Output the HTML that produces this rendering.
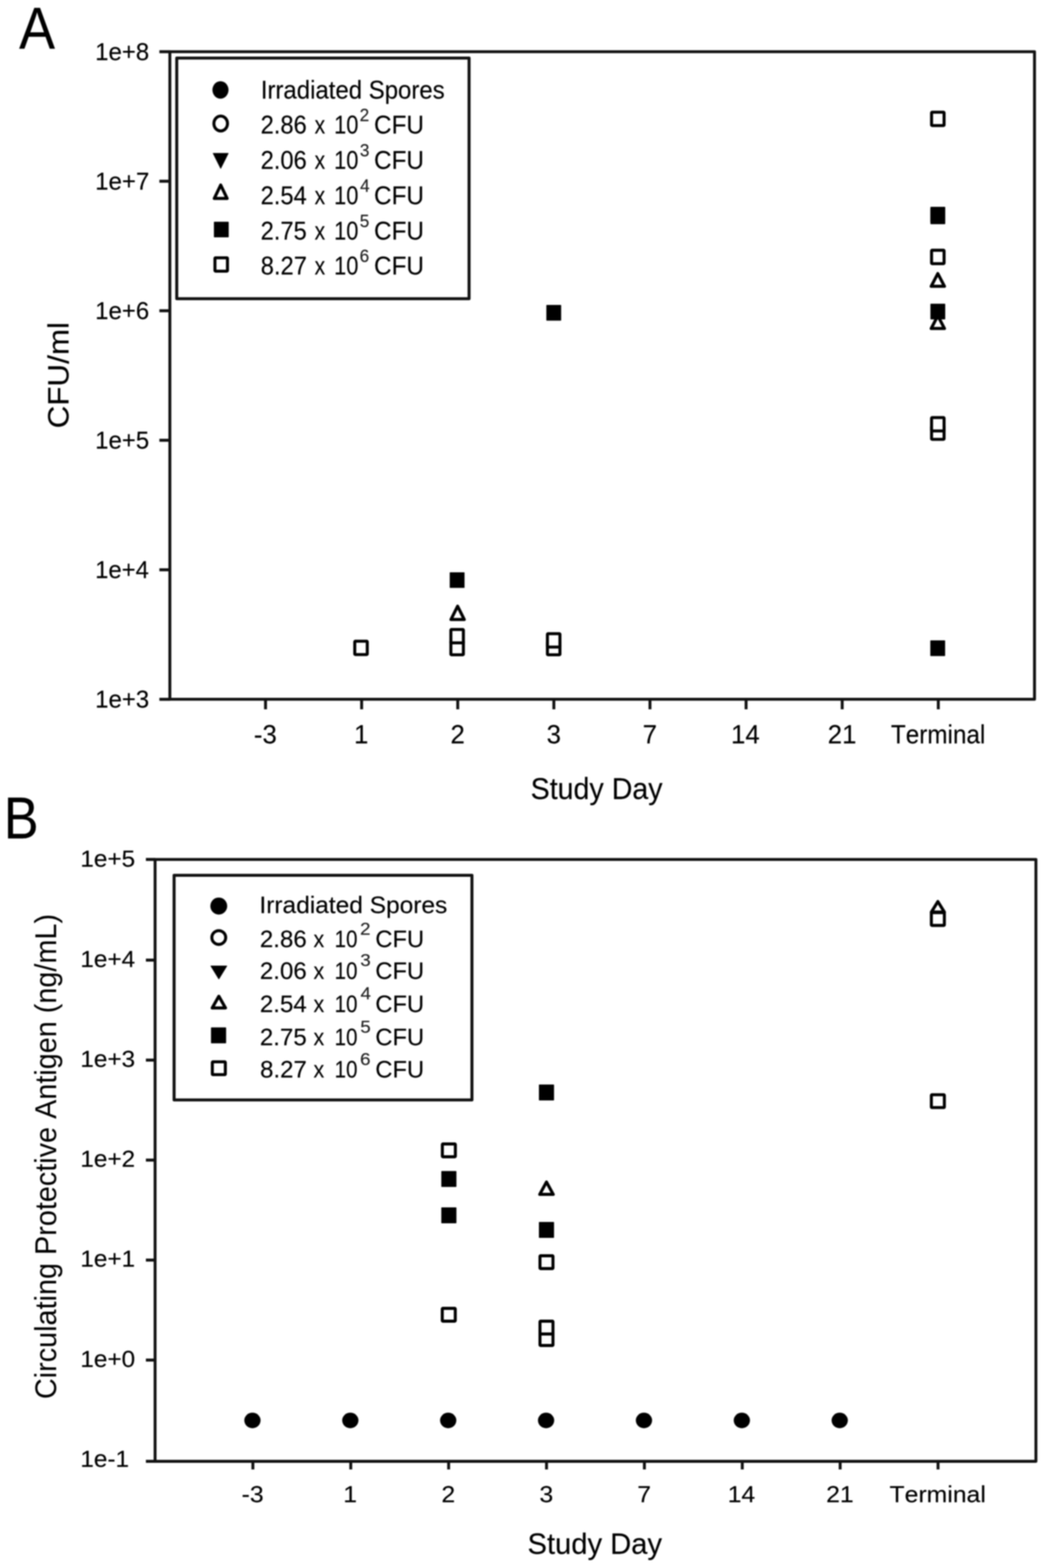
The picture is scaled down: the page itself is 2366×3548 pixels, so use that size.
<!DOCTYPE html>
<html><head><meta charset="utf-8"><title>Figure</title>
<style>
html,body{margin:0;padding:0;background:#fff;}
body{width:2366px;height:3548px;overflow:hidden;}
svg{display:block;filter:blur(1.4px);}
svg text.thin{stroke:none;}
svg text.sup{fill:#222;stroke:#222;stroke-width:0.4px;}
svg text{font-family:"Liberation Sans",Arial,sans-serif;fill:#000;stroke:#000;stroke-width:0.3px;stroke-linejoin:round;font-kerning:none;}
</style></head>
<body>
<svg xmlns="http://www.w3.org/2000/svg" width="2366" height="3548" viewBox="0 0 2366 3548">
<rect width="2366" height="3548" fill="#fff"/>
<path d="M384.2,117.0 H2340.0 V1582.3 H384.2 Z" fill="none" stroke="#111" stroke-width="6.6" stroke-linejoin="round"/>
<line x1="360.5" y1="117.00" x2="384.2" y2="117.00" stroke="#111" stroke-width="6.8"/>
<text x="215.27" y="135.60" font-size="56.3" textLength="122.19" lengthAdjust="spacingAndGlyphs">1e+8</text>
<line x1="360.5" y1="410.07" x2="384.2" y2="410.07" stroke="#111" stroke-width="6.8"/>
<text x="215.25" y="428.67" font-size="56.3" textLength="122.58" lengthAdjust="spacingAndGlyphs">1e+7</text>
<line x1="360.5" y1="703.14" x2="384.2" y2="703.14" stroke="#111" stroke-width="6.8"/>
<text x="215.27" y="721.74" font-size="56.3" textLength="122.22" lengthAdjust="spacingAndGlyphs">1e+6</text>
<line x1="360.5" y1="996.21" x2="384.2" y2="996.21" stroke="#111" stroke-width="6.8"/>
<text x="215.27" y="1014.81" font-size="56.3" textLength="122.11" lengthAdjust="spacingAndGlyphs">1e+5</text>
<line x1="360.5" y1="1289.28" x2="384.2" y2="1289.28" stroke="#111" stroke-width="6.8"/>
<text x="215.30" y="1307.88" font-size="56.3" textLength="121.38" lengthAdjust="spacingAndGlyphs">1e+4</text>
<line x1="360.5" y1="1582.35" x2="384.2" y2="1582.35" stroke="#111" stroke-width="6.8"/>
<text x="215.27" y="1600.95" font-size="56.3" textLength="122.22" lengthAdjust="spacingAndGlyphs">1e+3</text>
<line x1="600.60" y1="1582.3" x2="600.60" y2="1605.0" stroke="#111" stroke-width="6.6"/>
<line x1="818.00" y1="1582.3" x2="818.00" y2="1605.0" stroke="#111" stroke-width="6.6"/>
<line x1="1035.40" y1="1582.3" x2="1035.40" y2="1605.0" stroke="#111" stroke-width="6.6"/>
<line x1="1252.80" y1="1582.3" x2="1252.80" y2="1605.0" stroke="#111" stroke-width="6.6"/>
<line x1="1470.20" y1="1582.3" x2="1470.20" y2="1605.0" stroke="#111" stroke-width="6.6"/>
<line x1="1687.60" y1="1582.3" x2="1687.60" y2="1605.0" stroke="#111" stroke-width="6.6"/>
<line x1="1905.00" y1="1582.3" x2="1905.00" y2="1605.0" stroke="#111" stroke-width="6.6"/>
<line x1="2122.40" y1="1582.3" x2="2122.40" y2="1605.0" stroke="#111" stroke-width="6.6"/>
<text x="574.37" y="1682.20" font-size="58.3" textLength="51.84" lengthAdjust="spacingAndGlyphs">-3</text>
<text x="800.69" y="1682.20" font-size="58.3" textLength="32.42" lengthAdjust="spacingAndGlyphs">1</text>
<text x="1018.89" y="1682.20" font-size="58.3" textLength="32.42" lengthAdjust="spacingAndGlyphs">2</text>
<text x="1236.46" y="1682.20" font-size="58.3" textLength="32.42" lengthAdjust="spacingAndGlyphs">3</text>
<text x="1453.66" y="1682.20" font-size="58.3" textLength="32.42" lengthAdjust="spacingAndGlyphs">7</text>
<text x="1653.51" y="1682.20" font-size="58.3" textLength="64.85" lengthAdjust="spacingAndGlyphs">14</text>
<text x="1872.23" y="1682.20" font-size="58.3" textLength="64.85" lengthAdjust="spacingAndGlyphs">21</text>
<text x="2015.17" y="1682.20" font-size="58.3" textLength="213.61" lengthAdjust="spacingAndGlyphs">Terminal</text>
<text x="1200.26" y="1807.80" font-size="69" textLength="298.46" lengthAdjust="spacingAndGlyphs">Study Day</text>
<text transform="translate(154.60,965.70) rotate(-90)" x="-3.61" y="0" font-size="67" textLength="240.66" lengthAdjust="spacingAndGlyphs">CFU/ml</text>
<text x="43.16" y="109.60" font-size="134" textLength="81.18" lengthAdjust="spacingAndGlyphs">A</text>
<rect x="399.8" y="131.3" width="661.2" height="544.5" fill="#fff" stroke="#111" stroke-width="6.8" stroke-linejoin="round"/>
<ellipse cx="498.70" cy="203.50" rx="18.20" ry="19.70" fill="#000"/>
<ellipse cx="499.20" cy="279.50" rx="15.40" ry="16.80" fill="#fff" stroke="#000" stroke-width="6.8"/>
<path d="M482.20,347.00 L516.20,347.00 L499.20,381.00 Z" fill="#000" stroke="#000" stroke-width="1.6" stroke-linejoin="round"/>
<path d="M499.20,418.70 L513.70,449.10 L484.70,449.10 Z" fill="#fff" stroke="#000" stroke-width="7.0" stroke-linejoin="round"/>
<rect x="483.85" y="501.75" width="33.50" height="35.30" rx="1.2" fill="#000"/>
<rect x="486.20" y="583.30" width="28.30" height="30.30" rx="1.5" fill="#fff" stroke="#000" stroke-width="6.8"/>
<text x="589.90" y="222.60" font-size="56.9" textLength="415.96" lengthAdjust="spacingAndGlyphs">Irradiated Spores</text>
<text x="589.50" y="301.90" font-size="56.9" textLength="104.35" lengthAdjust="spacingAndGlyphs">2.86</text>
<text x="711.77" y="301.90" font-size="56.9" textLength="23.64" lengthAdjust="spacingAndGlyphs">x</text>
<text x="755.74" y="301.90" font-size="56.9" textLength="54.89" lengthAdjust="spacingAndGlyphs">10</text>
<text class="sup" x="813.45" y="273.60" font-size="40.9" textLength="21.61" lengthAdjust="spacingAndGlyphs">2</text>
<text x="846.01" y="301.90" font-size="56.9" textLength="112.93" lengthAdjust="spacingAndGlyphs">CFU</text>
<text x="589.50" y="382.20" font-size="56.9" textLength="104.35" lengthAdjust="spacingAndGlyphs">2.06</text>
<text x="711.77" y="382.20" font-size="56.9" textLength="23.64" lengthAdjust="spacingAndGlyphs">x</text>
<text x="755.74" y="382.20" font-size="56.9" textLength="54.89" lengthAdjust="spacingAndGlyphs">10</text>
<text class="sup" x="813.92" y="353.90" font-size="40.9" textLength="21.61" lengthAdjust="spacingAndGlyphs">3</text>
<text x="846.01" y="382.20" font-size="56.9" textLength="112.93" lengthAdjust="spacingAndGlyphs">CFU</text>
<text x="589.50" y="462.40" font-size="56.9" textLength="104.35" lengthAdjust="spacingAndGlyphs">2.54</text>
<text x="711.77" y="462.40" font-size="56.9" textLength="23.64" lengthAdjust="spacingAndGlyphs">x</text>
<text x="755.74" y="462.40" font-size="56.9" textLength="54.89" lengthAdjust="spacingAndGlyphs">10</text>
<text class="sup" x="814.51" y="434.10" font-size="40.9" textLength="21.61" lengthAdjust="spacingAndGlyphs">4</text>
<text x="846.01" y="462.40" font-size="56.9" textLength="112.93" lengthAdjust="spacingAndGlyphs">CFU</text>
<text x="589.50" y="541.80" font-size="56.9" textLength="104.35" lengthAdjust="spacingAndGlyphs">2.75</text>
<text x="711.77" y="541.80" font-size="56.9" textLength="23.64" lengthAdjust="spacingAndGlyphs">x</text>
<text x="755.74" y="541.80" font-size="56.9" textLength="54.89" lengthAdjust="spacingAndGlyphs">10</text>
<text class="sup" x="813.84" y="513.50" font-size="40.9" textLength="21.61" lengthAdjust="spacingAndGlyphs">5</text>
<text x="846.01" y="541.80" font-size="56.9" textLength="112.93" lengthAdjust="spacingAndGlyphs">CFU</text>
<text x="589.87" y="621.40" font-size="56.9" textLength="104.35" lengthAdjust="spacingAndGlyphs">8.27</text>
<text x="711.77" y="621.40" font-size="56.9" textLength="23.64" lengthAdjust="spacingAndGlyphs">x</text>
<text x="755.74" y="621.40" font-size="56.9" textLength="54.89" lengthAdjust="spacingAndGlyphs">10</text>
<text class="sup" x="813.43" y="593.10" font-size="40.9" textLength="21.61" lengthAdjust="spacingAndGlyphs">6</text>
<text x="846.01" y="621.40" font-size="56.9" textLength="112.93" lengthAdjust="spacingAndGlyphs">CFU</text>
<rect x="802.45" y="1450.85" width="28.30" height="30.30" rx="1.5" fill="#fff" stroke="#000" stroke-width="6.8"/>
<path d="M1035.10,1371.70 L1050.10,1401.80 L1020.10,1401.80 Z" fill="#fff" stroke="#000" stroke-width="7.0" stroke-linejoin="round"/>
<rect x="1017.25" y="1295.05" width="33.50" height="35.30" rx="1.2" fill="#000"/>
<rect x="1019.85" y="1451.35" width="28.30" height="30.30" rx="1.5" fill="#fff" stroke="#000" stroke-width="6.8"/>
<rect x="1019.85" y="1424.35" width="28.30" height="30.30" rx="1.5" fill="#fff" stroke="#000" stroke-width="6.8"/>
<rect x="1235.80" y="689.90" width="33.50" height="35.60" rx="1.2" fill="#000"/>
<rect x="1238.25" y="1451.35" width="28.30" height="30.30" rx="1.5" fill="#fff" stroke="#000" stroke-width="6.8"/>
<rect x="1238.25" y="1433.85" width="28.30" height="30.30" rx="1.5" fill="#fff" stroke="#000" stroke-width="6.8"/>
<path d="M2121.30,619.00 L2136.30,647.80 L2106.30,647.80 Z" fill="#fff" stroke="#000" stroke-width="7.0" stroke-linejoin="round"/>
<path d="M2121.30,714.50 L2136.30,743.30 L2106.30,743.30 Z" fill="#fff" stroke="#000" stroke-width="7.0" stroke-linejoin="round"/>
<rect x="2104.55" y="467.95" width="33.50" height="35.30" rx="1.2" fill="#000"/>
<rect x="2104.55" y="471.95" width="33.50" height="35.30" rx="1.2" fill="#000"/>
<rect x="2104.55" y="687.35" width="33.50" height="35.30" rx="1.2" fill="#000"/>
<rect x="2104.30" y="1449.10" width="33.50" height="35.30" rx="1.2" fill="#000"/>
<rect x="2107.15" y="253.85" width="28.30" height="30.30" rx="1.5" fill="#fff" stroke="#000" stroke-width="6.8"/>
<rect x="2107.15" y="566.25" width="28.30" height="30.30" rx="1.5" fill="#fff" stroke="#000" stroke-width="6.8"/>
<rect x="2107.15" y="963.85" width="28.30" height="30.30" rx="1.5" fill="#fff" stroke="#000" stroke-width="6.8"/>
<rect x="2107.15" y="944.85" width="28.30" height="30.30" rx="1.5" fill="#fff" stroke="#000" stroke-width="6.8"/>
<path d="M350.8,1944.7 H2343.2 V3306.6 H350.8 Z" fill="none" stroke="#111" stroke-width="6.6" stroke-linejoin="round"/>
<line x1="330" y1="1944.70" x2="350.8" y2="1944.70" stroke="#111" stroke-width="6.8"/>
<text x="181.71" y="1961.25" font-size="52.4" textLength="124.01" lengthAdjust="spacingAndGlyphs">1e+5</text>
<line x1="330" y1="2172.50" x2="350.8" y2="2172.50" stroke="#111" stroke-width="6.8"/>
<text x="181.71" y="2187.50" font-size="52.4" textLength="124.01" lengthAdjust="spacingAndGlyphs">1e+4</text>
<line x1="330" y1="2398.75" x2="350.8" y2="2398.75" stroke="#111" stroke-width="6.8"/>
<text x="181.71" y="2413.75" font-size="52.4" textLength="124.01" lengthAdjust="spacingAndGlyphs">1e+3</text>
<line x1="330" y1="2625.00" x2="350.8" y2="2625.00" stroke="#111" stroke-width="6.8"/>
<text x="181.71" y="2640.00" font-size="52.4" textLength="124.01" lengthAdjust="spacingAndGlyphs">1e+2</text>
<line x1="330" y1="2851.25" x2="350.8" y2="2851.25" stroke="#111" stroke-width="6.8"/>
<text x="181.71" y="2866.25" font-size="52.4" textLength="124.01" lengthAdjust="spacingAndGlyphs">1e+1</text>
<line x1="330" y1="3077.50" x2="350.8" y2="3077.50" stroke="#111" stroke-width="6.8"/>
<text x="181.71" y="3092.50" font-size="52.4" textLength="124.01" lengthAdjust="spacingAndGlyphs">1e+0</text>
<line x1="330" y1="3306.60" x2="350.8" y2="3306.60" stroke="#111" stroke-width="6.8"/>
<text x="181.71" y="3318.75" font-size="52.4" textLength="110.19" lengthAdjust="spacingAndGlyphs">1e-1</text>
<line x1="572.00" y1="3306.6" x2="572.00" y2="3325.0" stroke="#111" stroke-width="6.6"/>
<line x1="793.40" y1="3306.6" x2="793.40" y2="3325.0" stroke="#111" stroke-width="6.6"/>
<line x1="1014.80" y1="3306.6" x2="1014.80" y2="3325.0" stroke="#111" stroke-width="6.6"/>
<line x1="1236.20" y1="3306.6" x2="1236.20" y2="3325.0" stroke="#111" stroke-width="6.6"/>
<line x1="1457.60" y1="3306.6" x2="1457.60" y2="3325.0" stroke="#111" stroke-width="6.6"/>
<line x1="1679.00" y1="3306.6" x2="1679.00" y2="3325.0" stroke="#111" stroke-width="6.6"/>
<line x1="1900.40" y1="3306.6" x2="1900.40" y2="3325.0" stroke="#111" stroke-width="6.6"/>
<line x1="2121.80" y1="3306.6" x2="2121.80" y2="3325.0" stroke="#111" stroke-width="6.6"/>
<text x="546.51" y="3398.70" font-size="51.8" textLength="49.74" lengthAdjust="spacingAndGlyphs">-3</text>
<text x="776.48" y="3398.70" font-size="51.8" textLength="31.11" lengthAdjust="spacingAndGlyphs">1</text>
<text x="998.64" y="3398.70" font-size="51.8" textLength="31.11" lengthAdjust="spacingAndGlyphs">2</text>
<text x="1220.21" y="3398.70" font-size="51.8" textLength="31.11" lengthAdjust="spacingAndGlyphs">3</text>
<text x="1441.42" y="3398.70" font-size="51.8" textLength="31.11" lengthAdjust="spacingAndGlyphs">7</text>
<text x="1645.98" y="3398.70" font-size="51.8" textLength="62.23" lengthAdjust="spacingAndGlyphs">14</text>
<text x="1868.65" y="3398.70" font-size="51.8" textLength="62.23" lengthAdjust="spacingAndGlyphs">21</text>
<text x="2012.14" y="3398.70" font-size="51.8" textLength="217.70" lengthAdjust="spacingAndGlyphs">Terminal</text>
<text x="1193.31" y="3516.20" font-size="66.5" textLength="304.12" lengthAdjust="spacingAndGlyphs">Study Day</text>
<text class="thin" transform="translate(127.00,3162.45) rotate(-90)" x="-3.31" y="0" font-size="68.6" textLength="1097.65" lengthAdjust="spacingAndGlyphs">Circulating Protective Antigen (ng/mL)</text>
<text x="8.51" y="1897.30" font-size="133" textLength="78.83" lengthAdjust="spacingAndGlyphs">B</text>
<rect x="393.8" y="1980.6" width="673.7" height="508.2" fill="#fff" stroke="#111" stroke-width="6.8" stroke-linejoin="round"/>
<ellipse cx="494.85" cy="2050.20" rx="19.05" ry="19.30" fill="#000"/>
<ellipse cx="494.85" cy="2121.40" rx="15.65" ry="15.60" fill="#fff" stroke="#000" stroke-width="6.8"/>
<path d="M477.05,2185.80 L512.95,2185.80 L495.00,2215.00 Z" fill="#000" stroke="#000" stroke-width="1.6" stroke-linejoin="round"/>
<path d="M495.00,2254.30 L510.00,2280.70 L480.00,2280.70 Z" fill="#fff" stroke="#000" stroke-width="7.0" stroke-linejoin="round"/>
<rect x="477.25" y="2324.70" width="34.20" height="36.00" rx="1.2" fill="#000"/>
<rect x="480.30" y="2402.70" width="29.40" height="29.00" rx="1.5" fill="#fff" stroke="#000" stroke-width="6.8"/>
<text x="586.79" y="2066.30" font-size="54.3" textLength="425.02" lengthAdjust="spacingAndGlyphs">Irradiated Spores</text>
<text x="587.76" y="2143.30" font-size="54.3" textLength="105.93" lengthAdjust="spacingAndGlyphs">2.86</text>
<text x="709.36" y="2143.30" font-size="54.3" textLength="24.06" lengthAdjust="spacingAndGlyphs">x</text>
<text x="756.76" y="2143.30" font-size="54.3" textLength="51.76" lengthAdjust="spacingAndGlyphs">10</text>
<text class="sup" x="814.47" y="2115.00" font-size="39.2" textLength="23.56" lengthAdjust="spacingAndGlyphs">2</text>
<text x="848.98" y="2143.30" font-size="54.3" textLength="110.26" lengthAdjust="spacingAndGlyphs">CFU</text>
<text x="587.76" y="2214.70" font-size="54.3" textLength="105.93" lengthAdjust="spacingAndGlyphs">2.06</text>
<text x="709.36" y="2214.70" font-size="54.3" textLength="24.06" lengthAdjust="spacingAndGlyphs">x</text>
<text x="756.76" y="2214.70" font-size="54.3" textLength="51.76" lengthAdjust="spacingAndGlyphs">10</text>
<text class="sup" x="814.99" y="2186.40" font-size="39.2" textLength="23.56" lengthAdjust="spacingAndGlyphs">3</text>
<text x="848.98" y="2214.70" font-size="54.3" textLength="110.26" lengthAdjust="spacingAndGlyphs">CFU</text>
<text x="587.76" y="2289.60" font-size="54.3" textLength="105.93" lengthAdjust="spacingAndGlyphs">2.54</text>
<text x="709.36" y="2289.60" font-size="54.3" textLength="24.06" lengthAdjust="spacingAndGlyphs">x</text>
<text x="756.76" y="2289.60" font-size="54.3" textLength="51.76" lengthAdjust="spacingAndGlyphs">10</text>
<text class="sup" x="815.63" y="2261.30" font-size="39.2" textLength="23.56" lengthAdjust="spacingAndGlyphs">4</text>
<text x="848.98" y="2289.60" font-size="54.3" textLength="110.26" lengthAdjust="spacingAndGlyphs">CFU</text>
<text x="587.76" y="2364.90" font-size="54.3" textLength="105.93" lengthAdjust="spacingAndGlyphs">2.75</text>
<text x="709.36" y="2364.90" font-size="54.3" textLength="24.06" lengthAdjust="spacingAndGlyphs">x</text>
<text x="756.76" y="2364.90" font-size="54.3" textLength="51.76" lengthAdjust="spacingAndGlyphs">10</text>
<text class="sup" x="814.90" y="2336.60" font-size="39.2" textLength="23.56" lengthAdjust="spacingAndGlyphs">5</text>
<text x="848.98" y="2364.90" font-size="54.3" textLength="110.26" lengthAdjust="spacingAndGlyphs">CFU</text>
<text x="588.13" y="2437.80" font-size="54.3" textLength="105.93" lengthAdjust="spacingAndGlyphs">8.27</text>
<text x="709.36" y="2437.80" font-size="54.3" textLength="24.06" lengthAdjust="spacingAndGlyphs">x</text>
<text x="756.76" y="2437.80" font-size="54.3" textLength="51.76" lengthAdjust="spacingAndGlyphs">10</text>
<text class="sup" x="814.45" y="2409.50" font-size="39.2" textLength="23.56" lengthAdjust="spacingAndGlyphs">6</text>
<text x="848.98" y="2437.80" font-size="54.3" textLength="110.26" lengthAdjust="spacingAndGlyphs">CFU</text>
<ellipse cx="571.00" cy="3214.10" rx="18.40" ry="17.60" fill="#000"/>
<ellipse cx="792.40" cy="3214.10" rx="18.40" ry="17.60" fill="#000"/>
<ellipse cx="1013.80" cy="3214.10" rx="18.40" ry="17.60" fill="#000"/>
<ellipse cx="1235.20" cy="3214.10" rx="18.40" ry="17.60" fill="#000"/>
<ellipse cx="1456.60" cy="3214.10" rx="18.40" ry="17.60" fill="#000"/>
<ellipse cx="1678.00" cy="3214.10" rx="18.40" ry="17.60" fill="#000"/>
<ellipse cx="1899.40" cy="3214.10" rx="18.40" ry="17.60" fill="#000"/>
<rect x="998.20" y="2649.80" width="34.20" height="36.00" rx="1.2" fill="#000"/>
<rect x="998.20" y="2732.00" width="34.20" height="36.00" rx="1.2" fill="#000"/>
<rect x="1000.60" y="2588.50" width="29.40" height="29.00" rx="1.5" fill="#fff" stroke="#000" stroke-width="6.8"/>
<rect x="1000.40" y="2960.50" width="29.40" height="29.00" rx="1.5" fill="#fff" stroke="#000" stroke-width="6.8"/>
<path d="M1236.10,2674.60 L1251.35,2702.60 L1220.85,2702.60 Z" fill="#fff" stroke="#000" stroke-width="7.0" stroke-linejoin="round"/>
<rect x="1219.00" y="2454.00" width="34.20" height="36.00" rx="1.2" fill="#000"/>
<rect x="1219.00" y="2765.00" width="34.20" height="36.00" rx="1.2" fill="#000"/>
<rect x="1221.40" y="2841.50" width="29.40" height="29.00" rx="1.5" fill="#fff" stroke="#000" stroke-width="6.8"/>
<rect x="1221.40" y="3015.50" width="29.40" height="29.00" rx="1.5" fill="#fff" stroke="#000" stroke-width="6.8"/>
<rect x="1221.40" y="2989.50" width="29.40" height="29.00" rx="1.5" fill="#fff" stroke="#000" stroke-width="6.8"/>
<path d="M2121.40,2040.00 L2136.15,2063.80 L2106.65,2063.80 Z" fill="#fff" stroke="#000" stroke-width="7.0" stroke-linejoin="round"/>
<rect x="2106.70" y="2065.00" width="29.40" height="29.00" rx="1.5" fill="#fff" stroke="#000" stroke-width="6.8"/>
<rect x="2106.70" y="2477.20" width="29.40" height="29.00" rx="1.5" fill="#fff" stroke="#000" stroke-width="6.8"/>
</svg>
</body></html>
